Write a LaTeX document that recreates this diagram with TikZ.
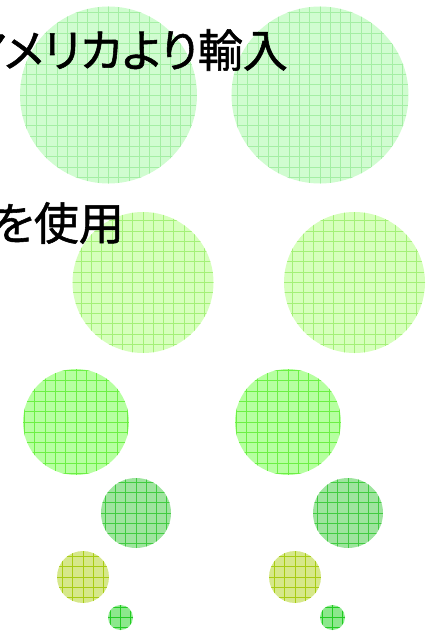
\documentclass[tikz,border=0pt]{standalone}
\usepackage{fontspec}
\newfontfamily\jpfont[RawFeature=+palt, FakeBold=1.2]{Noto Sans CJK JP}
\definecolor{fillA}{HTML}{D0FCD0}\definecolor{lineA}{HTML}{A4EEA4}
\definecolor{fillB}{HTML}{D6FFBC}\definecolor{lineB}{HTML}{A4F078}
\definecolor{fillC}{HTML}{B6FFA0}\definecolor{lineC}{HTML}{6CF044}
\definecolor{fillD}{HTML}{9EE49E}\definecolor{lineD}{HTML}{40CC40}
\definecolor{fillE}{HTML}{D6E88A}\definecolor{lineE}{HTML}{A8CC14}
\definecolor{fillF}{HTML}{8CE88C}\definecolor{lineF}{HTML}{22CC22}
\tikzset{
  gridball/.style n args={3}{circle, draw=none, fill=#2, inner sep=0pt,
    minimum size=#1,
    path picture={\draw[#3, line width=0.9pt]
      ([shift={(-0.5pt,-0.5pt)}]path picture bounding box.south west)
      grid[step=10.3pt] (path picture bounding box.north east);}},
  jptext/.style={inner sep=0pt, font=\jpfont\fontsize{45}{48}\selectfont, text=black}
}
\begin{document}
\begin{tikzpicture}[x=1pt,y=-1pt]
\useasboundingbox (0,0) rectangle (428,631);
% row 1
\node[gridball={177pt}{fillA}{lineA}] (a1) at (108.5,95) {};
\node[gridball={177pt}{fillA}{lineA}] (a2) at (320,95) {};
% row 2
\node[gridball={141pt}{fillB}{lineB}] (b1) at (143,282.5) {};
\node[gridball={141pt}{fillB}{lineB}] (b2) at (354.5,282.5) {};
% row 3
\node[gridball={106pt}{fillC}{lineC}] (c1) at (76,422) {};
\node[gridball={106pt}{fillC}{lineC}] (c2) at (288,422) {};
% row 4
\node[gridball={70pt}{fillD}{lineD}] (d1) at (136,513) {};
\node[gridball={70pt}{fillD}{lineD}] (d2) at (348,513) {};
% row 5
\node[gridball={52pt}{fillE}{lineE}] (e1) at (83,577) {};
\node[gridball={52pt}{fillE}{lineE}] (e2) at (295,577) {};
% row 6
\node[gridball={25pt}{fillF}{lineF}] (f1) at (120.5,617.5) {};
\node[gridball={25pt}{fillF}{lineF}] (f2) at (332.5,617.5) {};
% texts
\node[jptext, anchor=east] (t1) at (288,50) {アメリカより輸入};
\node[jptext, anchor=east] (t2) at (124,223) {を使用};
\end{tikzpicture}
\end{document}
